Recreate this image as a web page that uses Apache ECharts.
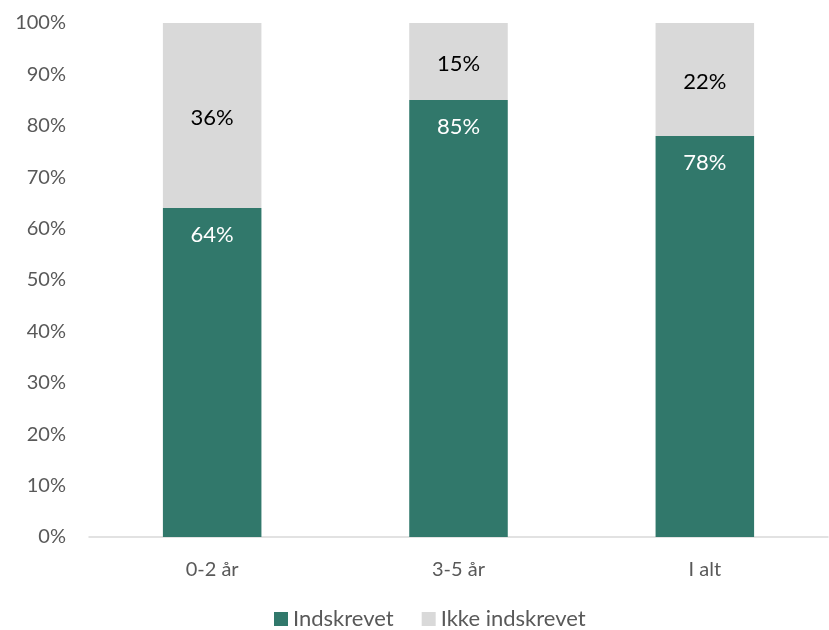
<!DOCTYPE html>
<html><head><meta charset="utf-8">
<script src="https://cdn.jsdelivr.net/npm/echarts@6/dist/echarts.min.js"></script>
<style>html,body{margin:0;padding:0;background:#fff}#c{width:829px;height:630px}</style>
</head><body><div id="c"></div>
<script>
const categories = ["0-2 år", "3-5 år", "I alt"];
const indskrevet = [64, 85, 78];
const ikkeIndskrevet = [36, 15, 22];
const yTicks = [0, 10, 20, 30, 40, 50, 60, 70, 80, 90, 100];

const font = "Lato, 'Open Sans', sans-serif";
const chart = echarts.init(document.getElementById('c'), null, {renderer: 'canvas'});
chart.setOption({
  animation: false,
  textStyle: {fontFamily: font},
  grid: {left: 89, right: 1, top: 23, bottom: 93, containLabel: false},
  legend: {
    top: 608, left: 274, itemWidth: 14, itemHeight: 14, itemGap: 28,
    icon: 'rect', padding: 0,
    textStyle: {fontSize: 22, color: '#595959', fontFamily: font},
    data: ['Indskrevet', 'Ikke indskrevet']
  },
  xAxis: {
    type: 'category', data: categories,
    axisLine: {lineStyle: {color: '#D9D9D9', width: 1.5}},
    axisTick: {show: false},
    axisLabel: {fontSize: 20, color: '#595959', margin: 23, fontFamily: font}
  },
  yAxis: {
    type: 'value', min: 0, max: 100, interval: 10,
    axisLine: {show: false}, axisTick: {show: false},
    splitLine: {show: false},
    axisLabel: {fontSize: 20, color: '#595959', margin: 23, fontFamily: font,
      formatter: v => yTicks.includes(v) ? v + '%' : ''}
  },
  series: [
    {
      name: 'Indskrevet', type: 'bar', stack: 'a', data: indskrevet, barWidth: '40%',
      itemStyle: {color: '#31786B'},
      label: {show: true, position: 'insideTop', distance: 16, formatter: '{c}%',
        color: '#fff', fontSize: 22, fontFamily: font}
    },
    {
      name: 'Ikke indskrevet', type: 'bar', stack: 'a', data: ikkeIndskrevet, barWidth: '40%',
      itemStyle: {color: '#D9D9D9'},
      label: {show: true, position: 'inside', offset: [0, 2], formatter: '{c}%',
        color: '#000', fontSize: 22, fontFamily: font}
    }
  ]
});
</script></body></html>
